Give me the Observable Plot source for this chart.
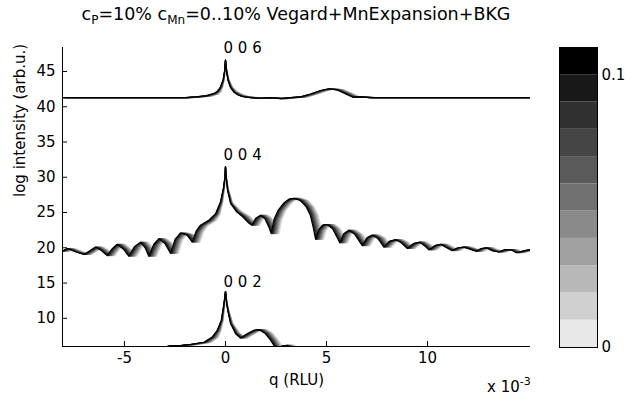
<!DOCTYPE html>
<html><head><meta charset="utf-8">
<script src="https://cdn.jsdelivr.net/npm/d3@7"></script>
<script src="https://cdn.jsdelivr.net/npm/@observablehq/plot@0.6"></script>
<style>
body{margin:0;background:#fff;}
#wrap{position:relative;width:625px;height:398px;overflow:hidden;font-family:"DejaVu Sans",sans-serif;color:#000;background:#fff;}
#wrap svg{position:absolute;top:0;}
#title{position:absolute;left:62px;width:468px;top:4px;text-align:center;font-size:17.5px;white-space:nowrap;}
#title sub{font-size:12px;vertical-align:-4px;line-height:0;}
#expo{position:absolute;left:487px;top:378px;font-size:15px;white-space:nowrap;}
#expo sup{font-size:11px;vertical-align:7px;line-height:0;}
</style>
</head><body>
<div id="wrap">
  <div id="main"></div>
  <div id="cbar"></div>
  <div id="title">c<sub>P</sub>=10% c<sub>Mn</sub>=0..10% Vegard+MnExpansion+BKG</div>
  <div id="expo">x 10<sup>-3</sup></div>
</div>
<script>
// ---- data ----
const cMn = [0, 0.01, 0.02, 0.03, 0.04, 0.05, 0.06, 0.07, 0.08, 0.09, 0.1];
const grayLevel = [232, 208, 184, 160, 138, 113, 90, 69, 48, 24, 0];
const shiftQ = [0.40, 0.36, 0.32, 0.28, 0.24, 0.20, 0.16, 0.12, 0.08, 0.04, 0];

const q006 = [-8.1, -2.0, -1.5, -1.0, -0.6, -0.4, -0.25, -0.12, -0.05, 0, 0.05, 0.12, 0.25, 0.4, 0.6, 0.8, 1.2, 1.7, 2.2, 2.7, 3.2, 3.7, 4.2, 4.7, 5.1, 5.5, 5.9, 6.3, 6.7, 7.1, 15.2];
const i006 = [41.3, 41.3, 41.4, 41.55, 41.85, 42.2, 42.8, 43.8, 45.0, 46.6, 45.0, 43.8, 42.7, 42.1, 41.7, 41.45, 41.3, 41.2, 41.3, 41.15, 41.3, 41.4, 41.8, 42.3, 42.55, 42.4, 41.9, 41.35, 41.4, 41.3, 41.3];

const q004 = [-8.1, -7.84, -7.4, -7.01, -6.7, -6.44, -6.15, -5.86, -5.6, -5.36, -5.05, -4.79, -4.5, -4.21, -3.98, -3.8, -3.55, -3.3, -3.0, -2.72, -2.5, -2.23, -1.9, -1.65, -1.45, -1.24, -0.83, -0.5, -0.25, -0.1, -0.03, 0, 0.03, 0.1, 0.25, 0.55, 0.85, 1.15, 1.3, 1.5, 1.73, 1.95, 2.15, 2.26, 2.4, 2.6, 2.9, 3.15, 3.38, 3.7, 4.0, 4.2, 4.35, 4.46, 4.6, 4.8, 5.03, 5.3, 5.5, 5.66, 5.85, 6.1, 6.4, 6.77, 7.0, 7.26, 7.55, 7.84, 8.1, 8.42, 8.7, 9.0, 9.3, 9.6, 9.85, 10.07, 10.35, 10.64, 10.95, 11.2, 11.5, 11.8, 12.1, 12.4, 12.65, 12.9, 13.2, 13.5, 13.8, 14.1, 14.4, 14.8, 15.2];
const i004 = [19.5, 19.9, 19.4, 19.05, 19.6, 20.1, 19.6, 18.9, 19.9, 20.5, 19.8, 18.8, 20.2, 20.8, 20.0, 18.8, 20.5, 21.3, 20.6, 19.2, 21.2, 22.1, 21.8, 20.8, 22.4, 23.2, 23.9, 24.8, 26.5, 28.5, 30.0, 31.5, 30.0, 28.2, 26.3, 25.1, 24.4, 23.5, 23.2, 24.2, 24.6, 24.1, 22.9, 22.0, 24.0, 25.3, 26.4, 26.9, 27.0, 26.7, 25.8, 24.6, 22.8, 21.2, 22.5, 23.2, 23.3, 22.7, 21.6, 20.7, 22.0, 22.5, 21.9, 20.3, 21.4, 21.8, 21.3, 20.1, 20.9, 21.15, 20.7, 19.9, 20.6, 20.8, 20.3, 19.7, 20.3, 20.5, 20.0, 19.6, 20.0, 20.1, 19.8, 19.5, 19.9, 20.0, 19.6, 19.4, 19.7, 19.75, 19.3, 19.6, 19.8];

const q002 = [-8.1, -3.5, -3.0, -2.8, -2.2, -1.73, -1.07, -0.66, -0.41, -0.21, -0.08, 0, 0.06, 0.12, 0.25, 0.5, 0.74, 1.07, 1.4, 1.65, 1.98, 2.23, 2.43, 2.6, 2.8, 3.05, 3.2, 3.6, 15.2];
const i002 = [4.0, 4.5, 5.9, 6.1, 6.15, 6.3, 6.6, 7.35, 8.3, 9.7, 12.0, 13.8, 12.0, 11.0, 9.25, 7.8, 7.2, 7.8, 8.3, 8.4, 7.8, 6.9, 6.0, 5.6, 6.1, 6.15, 5.6, 4.5, 4.0];

const peakText = ["0 0 6", "0 0 4", "0 0 2"];
const peakQ = [0, 0, 0];
const peakY = [48.3, 33.1, 15.1];

const xDomain = [-8.07, 15.1];
const yDomain = [6.0, 48.4];
const xTicks = [-5, 0, 5, 10];
const yTicks = [10, 15, 20, 25, 30, 35, 40, 45];
const cbDomain = [0, 0.11];
const cbTicks = [0, 0.1];

// ---- build tables ----
const families = [["006", q006, i006], ["004", q004, i004], ["002", q002, i002]];
const rows = [];
for (const [name, qs, ys] of families) {
  cMn.forEach((c, k) => {
    const g = grayLevel[k];
    const color = `rgb(${g},${g},${g})`;
    qs.forEach((q, i) => {
      rows.push({key: name + "-" + k, q: q + shiftQ[k] * Math.min(1, Math.abs(q) / 0.8), y: ys[i], color});
    });
  });
}
const labels = peakText.map((t, i) => ({t, q: peakQ[i], y: peakY[i]}));
const bands = cMn.map((c, k) => ({y1: c, y2: c + 0.01, color: `rgb(${grayLevel[k]},${grayLevel[k]},${grayLevel[k]})`}));

const font = {fontFamily: "'DejaVu Sans', sans-serif", fontSize: "15px", background: "transparent", color: "#000", overflow: "visible"};

const main = Plot.plot({
  width: 625, height: 398,
  marginLeft: 62, marginRight: 95, marginTop: 47, marginBottom: 52,
  style: font,
  x: {domain: xDomain},
  y: {domain: yDomain},
  color: {type: "identity"},
  marks: [
    Plot.line(rows, {x: "q", y: "y", z: "key", stroke: "color", strokeWidth: 1.2, clip: true}),
    Plot.ruleX([xDomain[0]], {stroke: "#000"}),
    Plot.ruleY([yDomain[0]], {stroke: "#000"}),
    Plot.axisX({ticks: xTicks, tickSize: -5, tickPadding: 11, tickFormat: d => String(d), label: null, fontSize: 15}),
    Plot.axisY({ticks: yTicks, tickSize: -5, tickPadding: 12, tickFormat: d => String(d), label: null, fontSize: 15}),
    Plot.text(labels, {x: "q", y: "y", text: "t", textAnchor: "start", dx: -2, fontSize: 15}),
    Plot.text(["log intensity (arb.u.)"], {frameAnchor: "left", dx: -42, rotate: -90, fontSize: 15}),
    Plot.text(["q (RLU)"], {frameAnchor: "bottom", dy: 38, fontSize: 15})
  ]
});
document.getElementById("main").appendChild(main);

const cbar = Plot.plot({
  width: 66, height: 398,
  marginLeft: 0, marginRight: 28, marginTop: 47, marginBottom: 51,
  style: font,
  x: {domain: [0, 1], axis: null},
  y: {domain: cbDomain},
  color: {type: "identity"},
  marks: [
    Plot.rect(bands, {x1: 0, x2: 1, y1: "y1", y2: "y2", fill: "color"}),
    Plot.frame({stroke: "#000"}),
    Plot.axisY({anchor: "right", ticks: cbTicks, tickSize: 0, tickPadding: 4, tickFormat: d => d === 0 ? "0" : "0.1", label: null, fontSize: 15})
  ]
});
cbar.style.left = "559px";
document.getElementById("cbar").appendChild(cbar);
</script>
</body></html>
